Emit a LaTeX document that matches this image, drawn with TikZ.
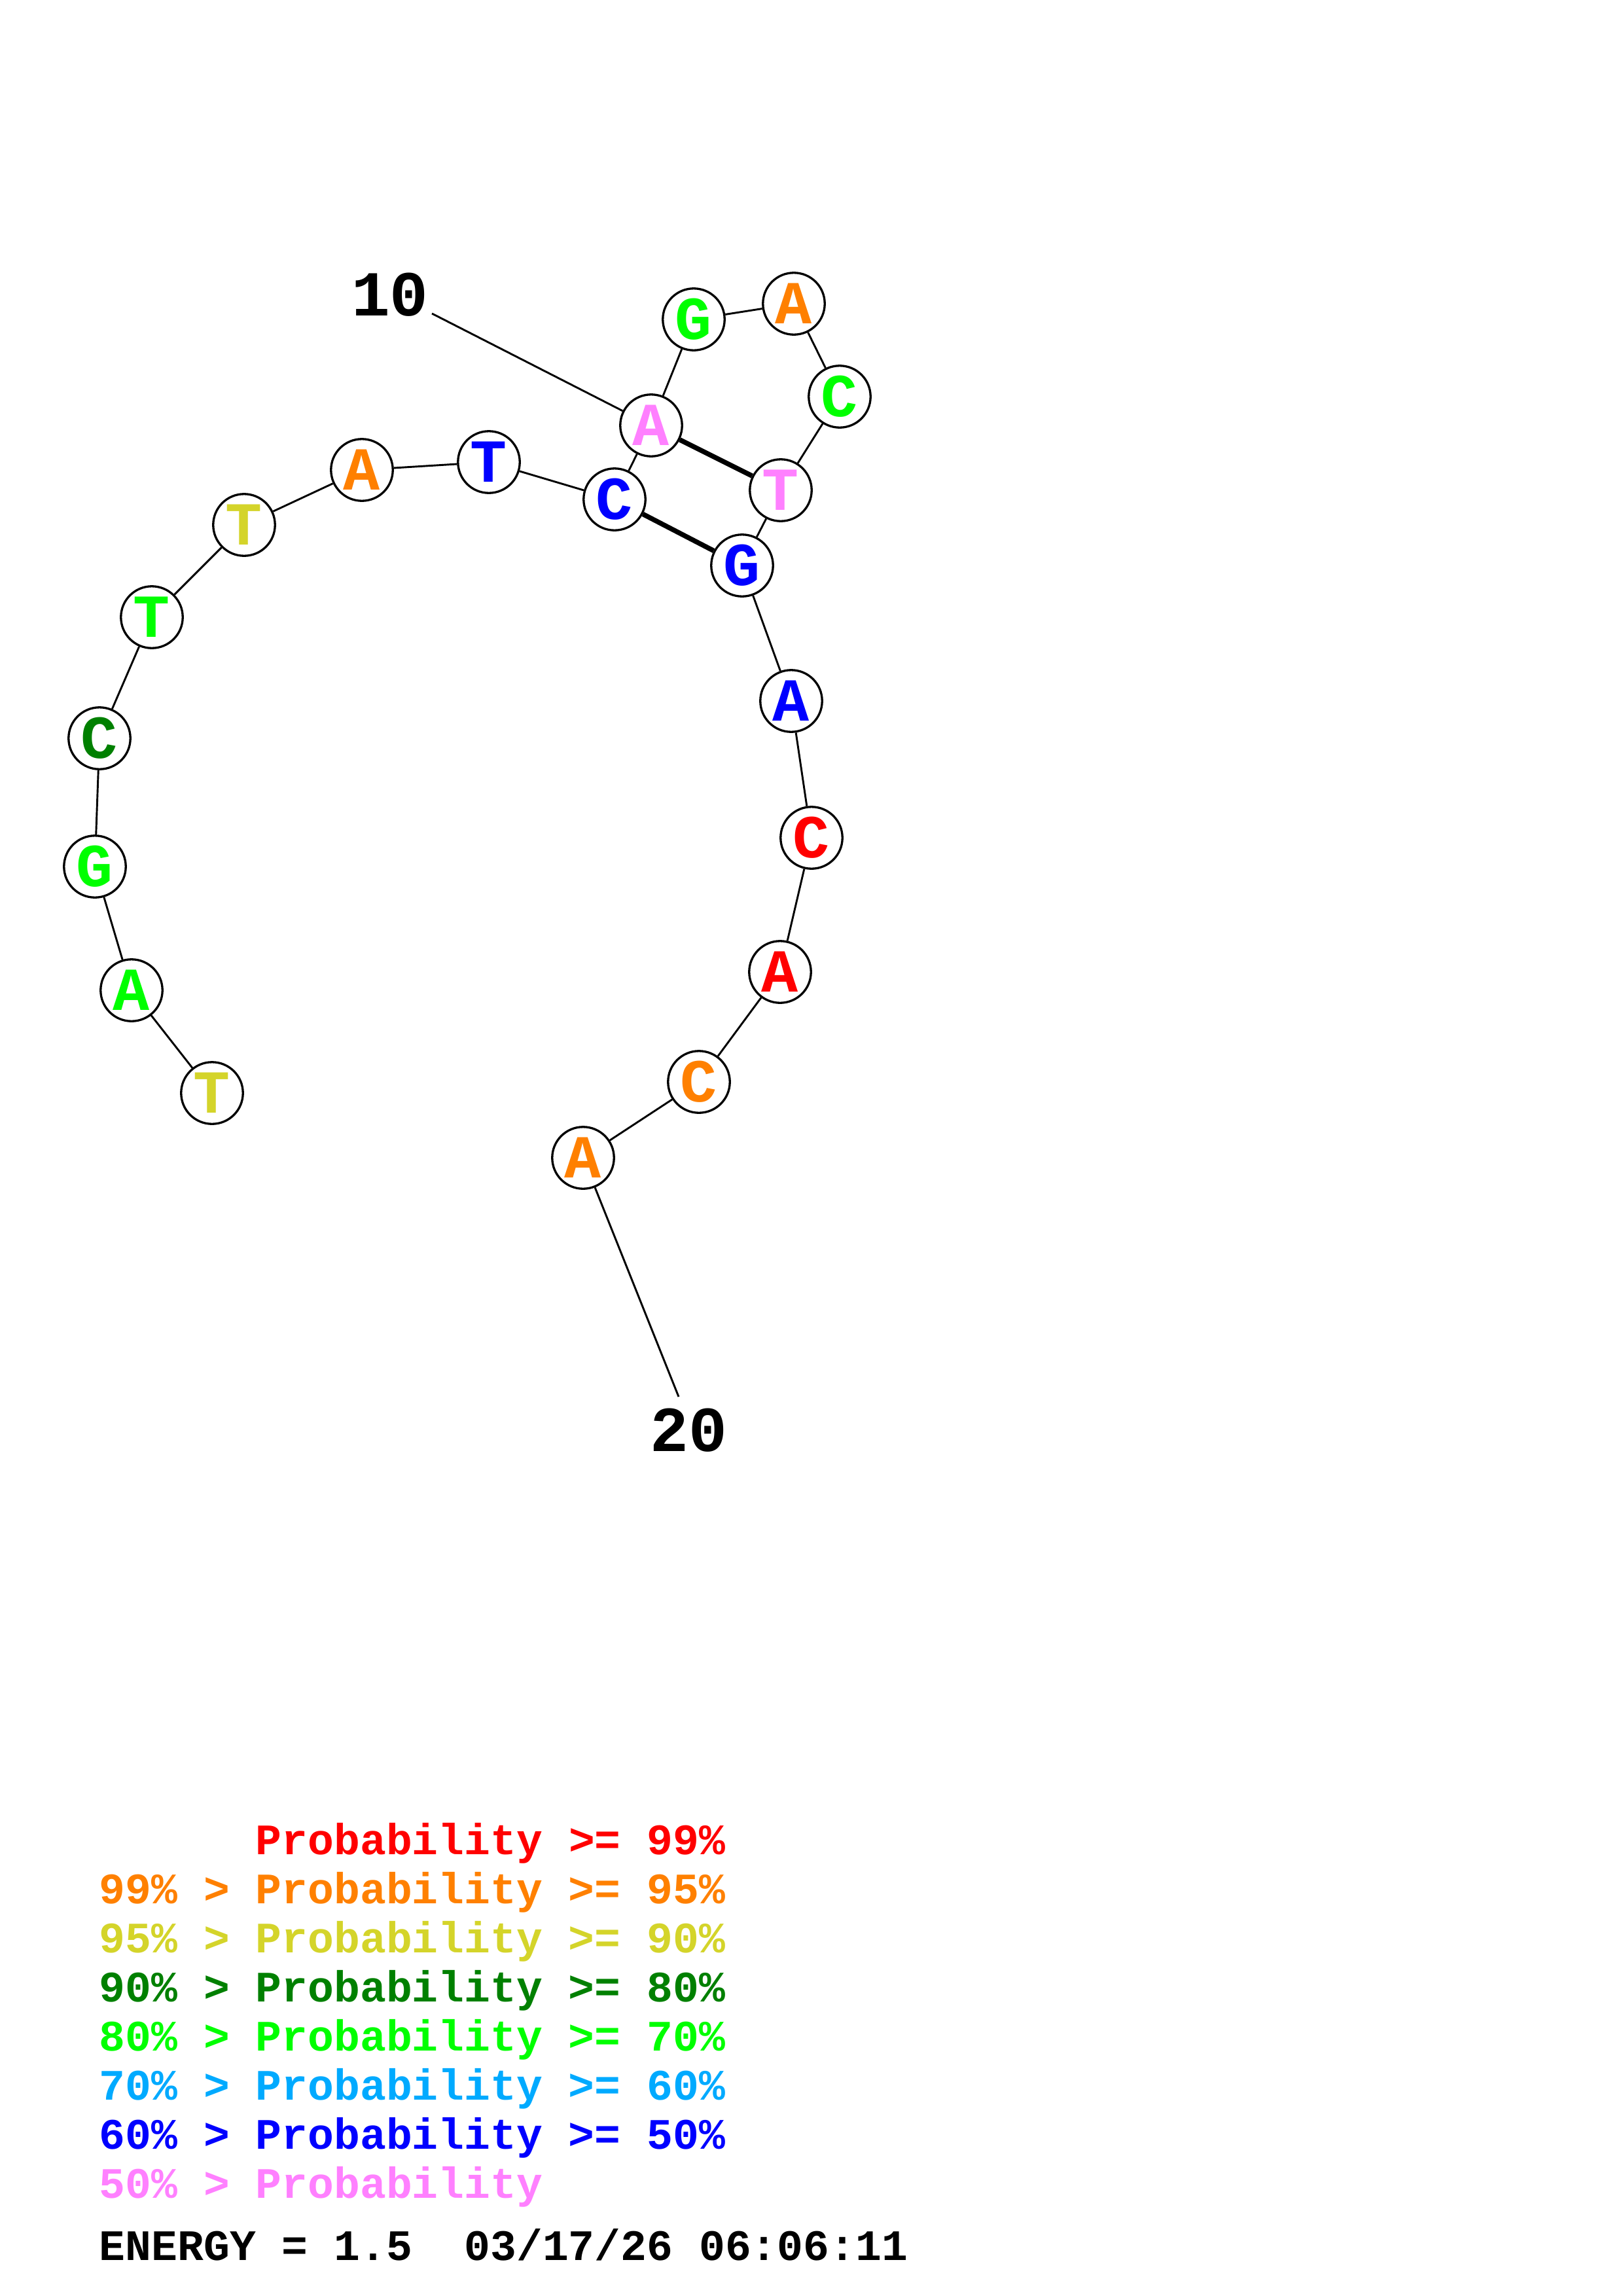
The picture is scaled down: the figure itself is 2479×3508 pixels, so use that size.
\documentclass[tikz,border=0pt]{standalone}
\usepackage{fontspec}
\newfontfamily\courier{Liberation Mono}
\definecolor{prob99}{HTML}{FF0000}
\definecolor{prob95}{HTML}{FF8000}
\definecolor{prob90}{HTML}{D4D42A}
\definecolor{prob80}{HTML}{008000}
\definecolor{prob70}{HTML}{00FF00}
\definecolor{prob60}{HTML}{00AAFF}
\definecolor{prob50}{HTML}{0000FF}
\definecolor{problow}{HTML}{FF80FF}
\newcommand{\basefont}{\courier\bfseries\fontsize{22.5}{26}\selectfont}
\newcommand{\numfont}{\courier\bfseries\fontsize{23.6}{28}\selectfont}
\newcommand{\keyfont}{\courier\bfseries\fontsize{16}{18}\selectfont}
\tikzset{
 base/.style={circle,draw=black,fill=white,line width=.8pt,minimum size=8mm,inner sep=0pt,font=\basefont},
 numlabel/.style={anchor=base,inner sep=0pt,font=\numfont},
 key/.style={anchor=base west,inner sep=0pt,font=\keyfont},
 backbone/.style={draw=black,line width=.7pt},
 pair/.style={draw=black,line width=1.8pt},
}

\begin{document}
\begin{tikzpicture}[x=0.0084712cm,y=-0.0084712cm]

\useasboundingbox (0,0) rectangle (2479,3508);
% bases
\foreach \i/\x/\y/\b/\c in {1/324/1670/T/prob90,2/201/1513/A/prob70,3/145/1324/G/prob70,4/152/1128/C/prob80,
  5/232/943/T/prob70,6/373/802/T/prob90,7/553/718/A/prob95,8/747/706/T/prob50,9/939/763/C/prob50,
  10/995/650/A/problow,11/1060/488/G/prob70,12/1213/464/A/prob95,13/1283/606/C/prob70,14/1193/749/T/problow,
  15/1134/864/G/prob50,16/1209/1071/A/prob50,17/1240/1280/C/prob99,18/1192/1485/A/prob99,19/1068/1653/C/prob95,
  20/891/1769/A/prob95} {
  \node[base,text=\c] (n\i) at (\x,\y) {\raisebox{-1.2pt}{\b}};
}
\foreach \i [evaluate=\i as \j using int(\i+1)] in {1,...,19} {
  \draw[backbone] (n\i) -- (n\j);
}
\draw[pair] (n10) -- (n14);
\draw[pair] (n9) -- (n15);

% numbering
\node[numlabel] (lab10) at (596,482) {10};
\coordinate (tail10) at (660,479);
\draw[backbone] (tail10) -- (n10);
\node[numlabel] (lab20) at (1052,2217) {20};
\coordinate (tail20) at (1037,2134);
\draw[backbone] (n20) -- (tail20);

% key
\node[key,text=prob99] (key1) at (151,2833) {\phantom{99\% > }Probability >= 99\%};
\foreach \lo/\hi/\col [count=\k from 2] in {99/95/prob95,95/90/prob90,90/80/prob80,80/70/prob70,70/60/prob60,60/50/prob50} {
  \node[key,text=\col] (key\k) at (151,{2833+75*(\k-1)}) {\lo\% > Probability >= \hi\%};
}
\node[key,text=problow] (key8) at (151,3358) {50\% > Probability};
\node[key] (energy) at (151,3453) {ENERGY = 1.5~~03/17/26 06:06:11};

\end{tikzpicture}
\end{document}
